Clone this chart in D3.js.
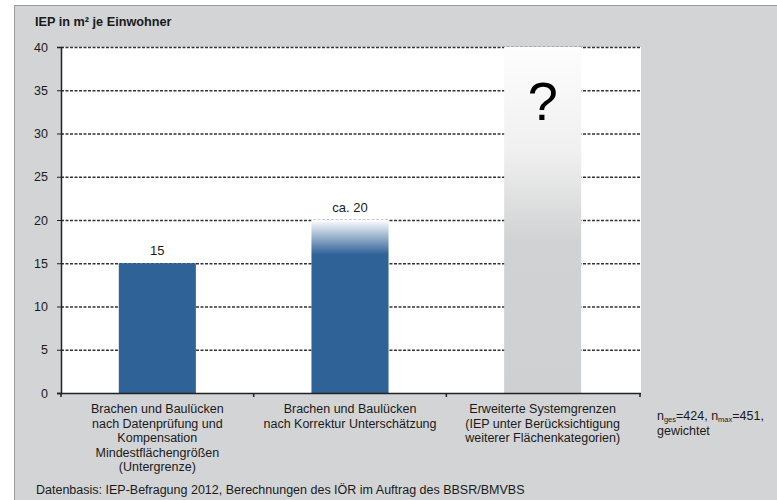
<!DOCTYPE html>
<html>
<head>
<meta charset="utf-8">
<script src="https://cdn.jsdelivr.net/npm/d3@7"></script>
<style>
  body { margin: 0; background: #fff; }
  text { font-family: "Liberation Sans", Arial, sans-serif; fill: #1a1a1a; }
</style>
</head>
<body>
<div id="chart"></div>
<script>
// data
const categories = ["kat1", "kat2", "kat3"];
const values = [15, 20, 40];
const barLabels = ["15", "ca. 20", "?"];
const catLabels = [
  ["Brachen und Baulücken", "nach Datenprüfung und", "Kompensation", "Mindestflächengrößen", "(Untergrenze)"],
  ["Brachen und Baulücken", "nach Korrektur Unterschätzung"],
  ["Erweiterte Systemgrenzen", "(IEP unter Berücksichtigung", "weiterer Flächenkategorien)"]
];
const yTicks = [0, 5, 10, 15, 20, 25, 30, 35, 40];

const W = 777, H = 500;
const fs = "12.5px";
const svg = d3.select("#chart").append("svg")
  .attr("width", W).attr("height", H);

// outer panel
svg.append("rect")
  .attr("x", 14.5).attr("y", 5.5)
  .attr("width", W - 13).attr("height", H)
  .attr("fill", "#d3d4d5")
  .attr("stroke", "#9a9b9c");

const plot = {left: 61, right: 641, top: 47, bottom: 393};

const x = d3.scaleBand()
  .domain(categories)
  .range([plot.left, plot.right - 2])
  .paddingInner(0.6).paddingOuter(0.3);
const xOuter = d3.scaleBand()
  .domain(categories)
  .range([plot.left, plot.right - 2]);
const y = d3.scaleLinear().domain([0, 40]).range([plot.bottom, plot.top]);

// gradients
const defs = svg.append("defs");
const g2 = defs.append("linearGradient").attr("id", "fade2")
  .attr("x1", 0).attr("y1", 0).attr("x2", 0).attr("y2", 1);
g2.append("stop").attr("offset", 0).attr("stop-color", "#ffffff");
g2.append("stop").attr("offset", 0.2).attr("stop-color", "#2f6296");
g2.append("stop").attr("offset", 1).attr("stop-color", "#2f6296");

const g3 = defs.append("linearGradient").attr("id", "fade3")
  .attr("x1", 0).attr("y1", 0).attr("x2", 0).attr("y2", 1);
g3.append("stop").attr("offset", 0).attr("stop-color", "#fdfdfd");
g3.append("stop").attr("offset", 0.3).attr("stop-color", "#f0f0f0");
g3.append("stop").attr("offset", 0.56).attr("stop-color", "#d1d2d3");
g3.append("stop").attr("offset", 1).attr("stop-color", "#cfd0d1");

const fills = ["#2f6296", "url(#fade2)", "url(#fade3)"];

// plot background
svg.append("rect")
  .attr("x", plot.left).attr("y", plot.top)
  .attr("width", plot.right - plot.left).attr("height", plot.bottom - plot.top)
  .attr("fill", "#ffffff");

// grid lines
svg.append("g").selectAll("line")
  .data(yTicks.filter(d => d > 0))
  .join("line")
  .attr("x1", plot.left).attr("x2", plot.right)
  .attr("y1", d => y(d) + 0.5).attr("y2", d => y(d) + 0.5)
  .attr("stroke", "#333")
  .attr("stroke-width", 1.3)
  .attr("stroke-dasharray", "3,1.5");

// bars
svg.append("g").selectAll("rect")
  .data(values)
  .join("rect")
  .attr("x", (d, i) => x(categories[i]))
  .attr("y", d => y(d))
  .attr("width", x.bandwidth())
  .attr("height", d => plot.bottom - y(d))
  .attr("fill", (d, i) => fills[i]);

// value labels
svg.append("g").selectAll("text")
  .data(values)
  .join("text")
  .attr("x", (d, i) => x(categories[i]) + x.bandwidth() / 2)
  .attr("y", (d, i) => i === 2 ? y(d) + 73 : y(d) - 8)
  .attr("text-anchor", "middle")
  .attr("font-size", (d, i) => i === 2 ? "54px" : "13px")
  .style("fill", (d, i) => i === 2 ? "#000" : "#1a1a1a")
  .text((d, i) => barLabels[i]);

// y axis
const yAxis = svg.append("g")
  .attr("transform", `translate(${plot.left},0)`)
  .call(d3.axisLeft(y).tickValues(yTicks).tickSize(4).tickPadding(9));
yAxis.select(".domain").attr("stroke", "#222").attr("stroke-width", 1.5);
yAxis.selectAll(".tick line").attr("stroke", "#222");
yAxis.selectAll(".tick text")
  .attr("font-size", fs)
  .attr("font-family", "Liberation Sans, Arial, sans-serif")
  .style("fill", "#1a1a1a");

// x axis
const xAxisG = svg.append("g");
xAxisG.append("line")
  .attr("x1", plot.left - 4).attr("x2", plot.right)
  .attr("y1", plot.bottom + 0.5).attr("y2", plot.bottom + 0.5)
  .attr("stroke", "#222").attr("stroke-width", 1.5);
const bounds = categories.map(c => xOuter(c)).concat([plot.right - 1]);
xAxisG.selectAll("line.tk")
  .data(bounds)
  .join("line").attr("class", "tk")
  .attr("x1", d => d).attr("x2", d => d)
  .attr("y1", plot.bottom).attr("y2", plot.bottom + 4)
  .attr("stroke", "#222").attr("stroke-width", 1.5);

// category labels
catLabels.forEach((lines, i) => {
  const t = svg.append("text")
    .attr("x", x(categories[i]) + x.bandwidth() / 2)
    .attr("y", 413)
    .attr("text-anchor", "middle")
    .attr("font-size", fs);
  lines.forEach((l, j) => {
    t.append("tspan")
      .attr("x", x(categories[i]) + x.bandwidth() / 2)
      .attr("dy", j === 0 ? 0 : 14.5)
      .text(l);
  });
});

// title
svg.append("text")
  .attr("x", 35).attr("y", 26)
  .attr("font-size", "12.7px")
  .attr("font-weight", "bold")
  .text("IEP in m² je Einwohner");

// n note
const note = svg.append("text")
  .attr("x", 657).attr("y", 420)
  .attr("font-size", fs);
note.append("tspan").text("n");
note.append("tspan").attr("font-size", "7.5px").attr("dy", 2).text("ges");
note.append("tspan").attr("dy", -2).text("=424, n");
note.append("tspan").attr("font-size", "7.5px").attr("dy", 2).text("max");
note.append("tspan").attr("dy", -2).text("=451,");
svg.append("text")
  .attr("x", 657).attr("y", 435)
  .attr("font-size", fs)
  .text("gewichtet");

// source
svg.append("text")
  .attr("x", 36).attr("y", 494)
  .attr("font-size", fs)
  .text("Datenbasis: IEP-Befragung 2012, Berechnungen des IÖR im Auftrag des BBSR/BMVBS");
</script>
</body>
</html>
